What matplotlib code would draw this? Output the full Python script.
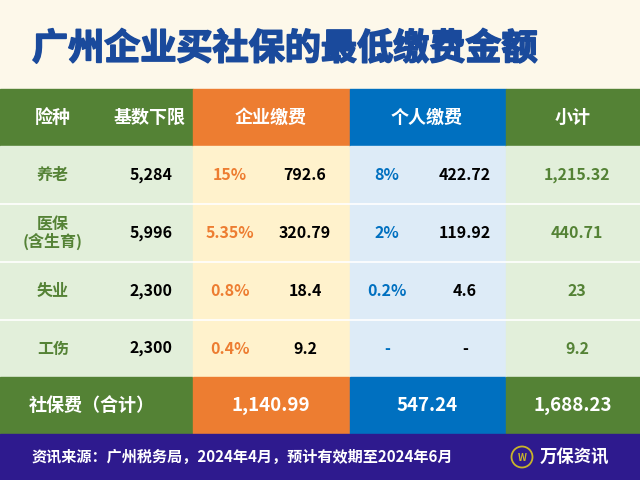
import matplotlib.pyplot as plt
import matplotlib.patheffects as pe
from matplotlib.patches import Rectangle, Circle

plt.rcParams['font.family'] = ['Noto Sans CJK SC', 'DejaVu Sans']

# Data
title = '广州企业买社保的最低缴费金额'
headers = ['险种', '基数下限', '企业缴费', '个人缴费', '小计']
types = ['养老', '医保\n(含生育)', '失业', '工伤']
base = ['5,284', '5,996', '2,300', '2,300']
ent_rate = ['15%', '5.35%', '0.8%', '0.4%']
ent_amt = ['792.6', '320.79', '18.4', '9.2']
per_rate = ['8%', '2%', '0.2%', '-']
per_amt = ['422.72', '119.92', '4.6', '-']
subtotal = ['1,215.32', '440.71', '23', '9.2']
total_label = '社保费（合计）'
totals = ['1,140.99', '547.24', '1,688.23']
source = '资讯来源：广州税务局，2024年4月，预计有效期至2024年6月'
brand = '万保资讯'

# Colours
cream = '#FDF8EA'
green = '#548235'
orange = '#ED7D31'
blue = '#0070C0'
lt_green = '#E2EFDA'
lt_orange = '#FFF2CC'
lt_blue = '#DDEBF7'
purple = '#2E1A8E'
title_blue = '#1A4A9C'

fig = plt.figure(figsize=(6.4, 4.8), dpi=100)
ax = fig.add_axes([0, 0, 1, 1])
ax.set_xlim(0, 640)
ax.set_ylim(480, 0)
ax.axis('off')

# Column groups: (x0, x1, dark, light)
groups = [(0, 193, green, lt_green), (193, 350, orange, lt_orange),
          (350, 506, blue, lt_blue), (506, 640, green, lt_green)]

ax.add_patch(Rectangle((0, 0), 640, 89, color=cream))
ax.text(32, 49, title, fontsize=26, fontweight='heavy', color=title_blue,
        ha='left', va='center',
        path_effects=[pe.withStroke(linewidth=1.2, foreground=title_blue)])

header_y0, header_y1 = 89, 146
row_edges = [146, 204, 262, 320, 377]
total_y1 = 434

for x0, x1, dark, light in groups:
    ax.add_patch(Rectangle((x0, header_y0), x1 - x0, header_y1 - header_y0, color=dark))
    ax.add_patch(Rectangle((x0, row_edges[0]), x1 - x0, row_edges[-1] - row_edges[0], color=light))
    ax.add_patch(Rectangle((x0, row_edges[-1]), x1 - x0, total_y1 - row_edges[-1], color=dark))

for y in row_edges[1:-1]:
    ax.plot([0, 640], [y, y], color='white', lw=1.2)

ax.add_patch(Rectangle((0, total_y1), 640, 480 - total_y1, color=purple))

# Header
hy = (header_y0 + header_y1) / 2
hx = [53, 150, 271, 427, 573]
for x, h in zip(hx, headers):
    ax.text(x, hy, h, fontsize=13, fontweight='bold', color='white', ha='center', va='center')

# Rows
col_x = [53, 151, 230, 305, 387, 465, 577]
for i in range(len(types)):
    y = (row_edges[i] + row_edges[i + 1]) / 2
    vals = [types[i], base[i], ent_rate[i], ent_amt[i], per_rate[i], per_amt[i], subtotal[i]]
    cols = [green, 'black', orange, 'black', blue, 'black', green]
    for x, v, c in zip(col_x, vals, cols):
        ax.text(x, y, v, fontsize=11.5, fontweight='bold', color=c, ha='center', va='center',
                linespacing=1.1)

# Totals
ty = (row_edges[-1] + total_y1) / 2
ax.text(92, ty, total_label, fontsize=13, fontweight='bold', color='white', ha='center', va='center')
for x, v in zip([271, 427, 573], totals):
    ax.text(x, ty, v, fontsize=13.5, fontweight='bold', color='white', ha='center', va='center')

# Footer
fy = 457
ax.text(32, fy, source, fontsize=10.9, fontweight='bold', color='white', ha='left', va='center')
ax.add_patch(Circle((522, fy), 10.5, fill=False, edgecolor='#C8B42A', lw=1.3))
ax.text(522, fy + 1, 'W', fontsize=7, fontweight='bold', color='#C8B42A', ha='center', va='center')
ax.text(574, fy, brand, fontsize=12.5, fontweight='bold', color='white', ha='center', va='center')

fig.savefig('out.png', dpi=100)
